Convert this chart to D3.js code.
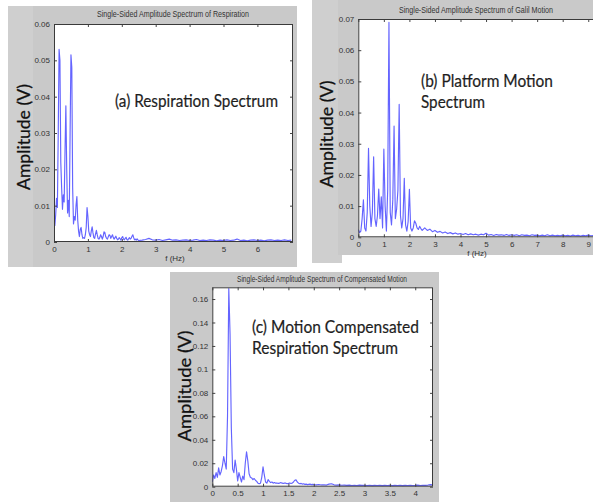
<!DOCTYPE html>
<html>
<head>
<meta charset="utf-8">
<script src="https://cdn.jsdelivr.net/npm/d3@7"></script>
<style>
  body {margin: 0; background: white;}
  svg {display: block;}
</style>
</head>
<body>
<svg id="chart" width="593" height="502"></svg>
<script>
// ---- values (amplitudes in V) ----

// (a) respiration: 0 - 2.5 Hz every 0.025 Hz, then 2.6 - 7.0 Hz every 0.1 Hz
var respLowStart = 0, respLowStep = 0.025;
var respLow = [
  0.0070, 0.0045, 0.0075, 0.0120, 0.0095, 0.0300, 0.0530, 0.0500, 0.0220, 0.0150,
  0.0090, 0.0130, 0.0110, 0.0250, 0.0375, 0.0200, 0.0080, 0.0115, 0.0070, 0.0300,
  0.0515, 0.0480, 0.0150, 0.0050, 0.0070, 0.0060, 0.0100, 0.0125, 0.0060, 0.0030,
  0.0015, 0.0035, 0.0040, 0.0020, 0.0010, 0.0012, 0.0010, 0.0020, 0.0040, 0.0095,
  0.0070, 0.0030, 0.0020, 0.0015, 0.0030, 0.0042, 0.0025, 0.0012, 0.0010, 0.0022,
  0.0032, 0.0020, 0.0010, 0.0008, 0.0012, 0.0020, 0.0015, 0.0008, 0.0015, 0.0028,
  0.0026, 0.0015, 0.0010, 0.0008, 0.0014, 0.0020, 0.0018, 0.0010, 0.0015, 0.0020,
  0.0012, 0.0008, 0.0012, 0.0016, 0.0010, 0.0006, 0.0008, 0.0012, 0.0009, 0.0005,
  0.0012, 0.0015, 0.0008, 0.0006, 0.0010, 0.0013, 0.0007, 0.0005, 0.0009, 0.0012,
  0.0008, 0.0010, 0.0016, 0.0020, 0.0012, 0.0006, 0.0008, 0.0005, 0.0009, 0.0006,
  0.0004
];
var respTailStart = 2.6, respTailStep = 0.1;
var respTail = [
  0.0005, 0.0007, 0.0010, 0.0006, 0.0005, 0.0007, 0.0004, 0.0006, 0.0008, 0.0005,
  0.0006, 0.0004, 0.0005, 0.0006, 0.0004, 0.0005, 0.0007, 0.0004, 0.0005, 0.0004,
  0.0006, 0.0005, 0.0003, 0.0005, 0.0004, 0.0006, 0.0004, 0.0005, 0.0008, 0.0004,
  0.0005, 0.0003, 0.0005, 0.0006, 0.0004, 0.0005, 0.0003, 0.0005, 0.0006, 0.0004,
  0.0005, 0.0004, 0.0006, 0.0004, 0.0005
];
var respXTicks = [0, 1, 2, 3, 4, 5, 6];
var respYTicks = [0, 0.01, 0.02, 0.03, 0.04, 0.05, 0.06];

// (b) platform (Galil) motion: 0 - 2.5 Hz every 0.05 Hz, then 2.6 - 10 Hz every 0.1 Hz
var galilLowStart = 0, galilLowStep = 0.05;
var galilLow = [
  0.0025, 0.0015, 0.0020, 0.0060, 0.0120, 0.0030, 0.0020, 0.0080, 0.0285, 0.0100,
  0.0035, 0.0080, 0.0258, 0.0060, 0.0035, 0.0070, 0.0155, 0.0060, 0.0130, 0.0030,
  0.0283, 0.0100, 0.0020, 0.0150, 0.0689, 0.0080, 0.0040, 0.0120, 0.0357, 0.0060,
  0.0090, 0.0150, 0.0426, 0.0070, 0.0030, 0.0060, 0.0189, 0.0040, 0.0020, 0.0050,
  0.0154, 0.0030, 0.0020, 0.0030, 0.0053, 0.0045, 0.0030, 0.0025, 0.0035, 0.0028,
  0.0022
];
var galilTailStart = 2.6, galilTailStep = 0.1;
var galilTail = [
  0.0030, 0.0022, 0.0026, 0.0018, 0.0022, 0.0016, 0.0019, 0.0014, 0.0017, 0.0012,
  0.0015, 0.0011, 0.0014, 0.0010, 0.0012, 0.0009, 0.0012, 0.0008, 0.0011, 0.0008,
  0.0010, 0.0007, 0.0010, 0.0008, 0.0013, 0.0007, 0.0009, 0.0006, 0.0009, 0.0007,
  0.0008, 0.0006, 0.0009, 0.0006, 0.0008, 0.0006, 0.0008, 0.0005, 0.0008, 0.0006,
  0.0007, 0.0005, 0.0008, 0.0006, 0.0007, 0.0005, 0.0007, 0.0005, 0.0008, 0.0005,
  0.0007, 0.0005, 0.0006, 0.0005, 0.0007, 0.0005, 0.0006, 0.0004, 0.0007, 0.0005,
  0.0006, 0.0004, 0.0006, 0.0005, 0.0007, 0.0005, 0.0006, 0.0004, 0.0006, 0.0005,
  0.0006, 0.0004, 0.0006, 0.0005, 0.0005
];
var galilXTicks = [0, 1, 2, 3, 4, 5, 6, 7, 8, 9];
var galilYTicks = [0, 0.01, 0.02, 0.03, 0.04, 0.05, 0.06, 0.07];

// (c) compensated motion: 0 - 2.0 Hz every 0.025 Hz, then 2.05 - 4.35 Hz every 0.05 Hz
var compLowStart = 0, compLowStep = 0.025;
var compLow = [
  0.0040, 0.0100, 0.0070, 0.0120, 0.0080, 0.0160, 0.0100, 0.0130, 0.0180, 0.0256,
  0.0200, 0.0150, 0.0600, 0.1690, 0.1300, 0.0500, 0.0150, 0.0120, 0.0227, 0.0150,
  0.0050, 0.0120, 0.0080, 0.0040, 0.0090, 0.0060, 0.0200, 0.0298, 0.0220, 0.0110,
  0.0080, 0.0075, 0.0060, 0.0070, 0.0055, 0.0045, 0.0030, 0.0025, 0.0030, 0.0080,
  0.0170, 0.0100, 0.0040, 0.0030, 0.0060, 0.0045, 0.0035, 0.0040, 0.0030, 0.0035,
  0.0030, 0.0032, 0.0028, 0.0030, 0.0035, 0.0030, 0.0028, 0.0032, 0.0030, 0.0025,
  0.0028, 0.0032, 0.0028, 0.0030, 0.0040, 0.0055, 0.0058, 0.0040, 0.0030, 0.0025,
  0.0028, 0.0022, 0.0025, 0.0020, 0.0022, 0.0018, 0.0020, 0.0022, 0.0018, 0.0020,
  0.0018
];
var compTailStart = 2.05, compTailStep = 0.05;
var compTail = [
  0.0016, 0.0019, 0.0015, 0.0017, 0.0014, 0.0022, 0.0025, 0.0016, 0.0013, 0.0015,
  0.0012, 0.0014, 0.0011, 0.0013, 0.0010, 0.0012, 0.0010, 0.0013, 0.0011, 0.0012,
  0.0010, 0.0012, 0.0009, 0.0011, 0.0010, 0.0012, 0.0009, 0.0011, 0.0010, 0.0012,
  0.0009, 0.0011, 0.0010, 0.0012, 0.0009, 0.0011, 0.0010, 0.0012, 0.0010, 0.0011,
  0.0013, 0.0010, 0.0012, 0.0011, 0.0014, 0.0018, 0.0015
];
var compXTicks = [0, 0.5, 1, 1.5, 2, 2.5, 3, 3.5, 4];
var compYTicks = [0, 0.02, 0.04, 0.06, 0.08, 0.1, 0.12, 0.14, 0.16];

// ---- helpers ----
function segment(start, step, values) {
  return values.map(function(v, i) { return [start + i * step, v]; });
}

var svg = d3.select('#chart');
var bgGray = '#c9c9c9';
var lineBlue = '#3030ff';

function drawPanel(p) {
  var g = svg.append('g');

  // grey figure background
  p.bg.forEach(function(b) {
    g.append('rect').attr('x', b[0]).attr('y', b[1]).attr('width', b[2]).attr('height', b[3])
      .attr('fill', b[4] || bgGray);
  });

  var x = d3.scaleLinear().domain(p.xDomain).range([p.left, p.right]);
  var y = d3.scaleLinear().domain(p.yDomain).range([p.bottom, p.top]);

  // white axes area
  g.append('rect')
    .attr('x', p.left).attr('y', p.top)
    .attr('width', p.right - p.left).attr('height', p.bottom - p.top)
    .attr('fill', 'white');

  var clipId = 'clip-' + p.id;
  g.append('clipPath').attr('id', clipId)
    .append('rect')
    .attr('x', p.left).attr('y', p.top - 1)
    .attr('width', p.right - p.left).attr('height', p.bottom - p.top + 1);

  // spectrum line
  var pts = [];
  p.segments.forEach(function(s) { pts = pts.concat(segment(s[0], s[1], s[2])); });
  g.append('path')
    .datum(pts)
    .attr('clip-path', 'url(#' + clipId + ')')
    .attr('fill', 'none')
    .attr('stroke', lineBlue)
    .attr('stroke-opacity', 0.75)
    .attr('stroke-width', 1.15)
    .attr('stroke-linejoin', 'round')
    .attr('d', d3.line().x(function(d) { return x(d[0]); }).y(function(d) { return y(d[1]); }));

  // axes, MATLAB style: ticks inside on all four sides
  var fmt = function(d) { return String(d); };
  function styleAxis(a) {
    a.select('.domain').remove();
    a.selectAll('line').attr('stroke', '#444');
    a.selectAll('text').attr('fill', '#333')
      .attr('font-family', '"Liberation Sans", Arial, sans-serif').attr('font-size', 8);
  }
  g.append('g').attr('transform', 'translate(0,' + p.bottom + ')')
    .call(d3.axisBottom(x).tickValues(p.xTicks).tickSize(-3).tickPadding(4).tickFormat(fmt))
    .call(styleAxis);
  g.append('g').attr('transform', 'translate(0,' + p.top + ')')
    .call(d3.axisTop(x).tickValues(p.xTicks).tickSize(-3).tickFormat(''))
    .call(styleAxis);
  g.append('g').attr('transform', 'translate(' + p.left + ',0)')
    .call(d3.axisLeft(y).tickValues(p.yTicks).tickSize(-3).tickPadding(4).tickFormat(fmt))
    .call(styleAxis);
  g.append('g').attr('transform', 'translate(' + p.right + ',0)')
    .call(d3.axisRight(y).tickValues(p.yTicks).tickSize(-3).tickFormat(''))
    .call(styleAxis);

  // frame
  g.append('rect')
    .attr('x', p.left + 0.5).attr('y', p.top + 0.5)
    .attr('width', p.right - p.left - 1).attr('height', p.bottom - p.top - 1)
    .attr('fill', 'none').attr('stroke', '#3a3a3a').attr('stroke-width', 1);

  // title
  g.append('text')
    .attr('x', p.title.x).attr('y', p.title.y)
    .attr('text-anchor', 'middle')
    .attr('font-family', '"Liberation Sans Narrow", "Liberation Sans", Arial, sans-serif')
    .attr('font-size', 8.5).attr('fill', '#333')
    .attr('textLength', p.title.w).attr('lengthAdjust', 'spacingAndGlyphs')
    .text(p.title.text);

  // x label
  if (p.xlab) {
    g.append('text')
      .attr('x', p.xlab.x).attr('y', p.xlab.y)
      .attr('text-anchor', 'middle')
      .attr('font-family', '"Liberation Sans", Arial, sans-serif')
      .attr('font-size', 8).attr('fill', '#333')
      .text('f (Hz)');
  }

  // y label
  g.append('text')
    .attr('transform', 'translate(' + p.ylab.x + ',' + p.ylab.y + ') rotate(-90)')
    .attr('text-anchor', 'middle')
    .attr('font-family', 'Lato, "Open Sans", sans-serif')
    .attr('font-size', 17.5).attr('fill', '#111')
    .attr('stroke', '#111').attr('stroke-width', 0.25)
    .attr('textLength', p.ylab.w).attr('lengthAdjust', 'spacingAndGlyphs')
    .text('Amplitude (V)');

  // caption written on the plot
  p.caption.forEach(function(c) {
    g.append('text')
      .attr('x', c[0]).attr('y', c[1])
      .attr('font-family', 'Lato, "Open Sans", sans-serif')
      .attr('font-size', 17.5).attr('fill', '#1e1e1e')
      .attr('stroke', '#1e1e1e').attr('stroke-width', 0.2)
      .attr('textLength', c[2]).attr('lengthAdjust', 'spacingAndGlyphs')
      .text(c[3]);
  });
}

drawPanel({
  id: 'a',
  bg: [[8, 6, 289, 261, '#cfcfcf'], [33, 6, 264, 261]],
  left: 54, right: 293, top: 24, bottom: 242,
  xDomain: [0, 7.05], yDomain: [0, 0.06],
  xTicks: respXTicks, yTicks: respYTicks,
  segments: [[respLowStart, respLowStep, respLow], [respTailStart, respTailStep, respTail]],
  title: {x: 173, y: 16.5, w: 152, text: 'Single-Sided Amplitude Spectrum of Respiration'},
  xlab: {x: 175, y: 261},
  ylab: {x: 30, y: 137, w: 106},
  caption: [[115, 107, 163, '(a) Respiration Spectrum']]
});

drawPanel({
  id: 'b',
  bg: [[312, 0, 30, 263, '#cfcfcf'], [338, 0, 255, 255]],
  left: 358.3, right: 613.8, top: 19, bottom: 237.3,
  xDomain: [0, 10], yDomain: [0, 0.07],
  xTicks: galilXTicks, yTicks: galilYTicks,
  segments: [[galilLowStart, galilLowStep, galilLow], [galilTailStart, galilTailStep, galilTail]],
  title: {x: 476, y: 12.5, w: 154, text: 'Single-Sided Amplitude Spectrum of Galil Motion'},
  xlab: {x: 477, y: 256},
  ylab: {x: 333, y: 134, w: 107},
  caption: [[421, 86.5, 132, '(b) Platform Motion'], [421, 107.5, 64, 'Spectrum']]
});

drawPanel({
  id: 'c',
  bg: [[170, 272, 269, 230]],
  left: 212.3, right: 433, top: 287.3, bottom: 486.7,
  xDomain: [0, 4.35], yDomain: [0, 0.17],
  xTicks: compXTicks, yTicks: compYTicks,
  segments: [[compLowStart, compLowStep, compLow], [compTailStart, compTailStep, compTail]],
  title: {x: 322, y: 282, w: 170, text: 'Single-Sided Amplitude Spectrum of Compensated Motion'},
  xlab: null,
  ylab: {x: 191, y: 386, w: 111},
  caption: [[252, 333, 167, '(c) Motion Compensated'], [252, 354, 146, 'Respiration Spectrum']]
});
</script>
</body>
</html>
